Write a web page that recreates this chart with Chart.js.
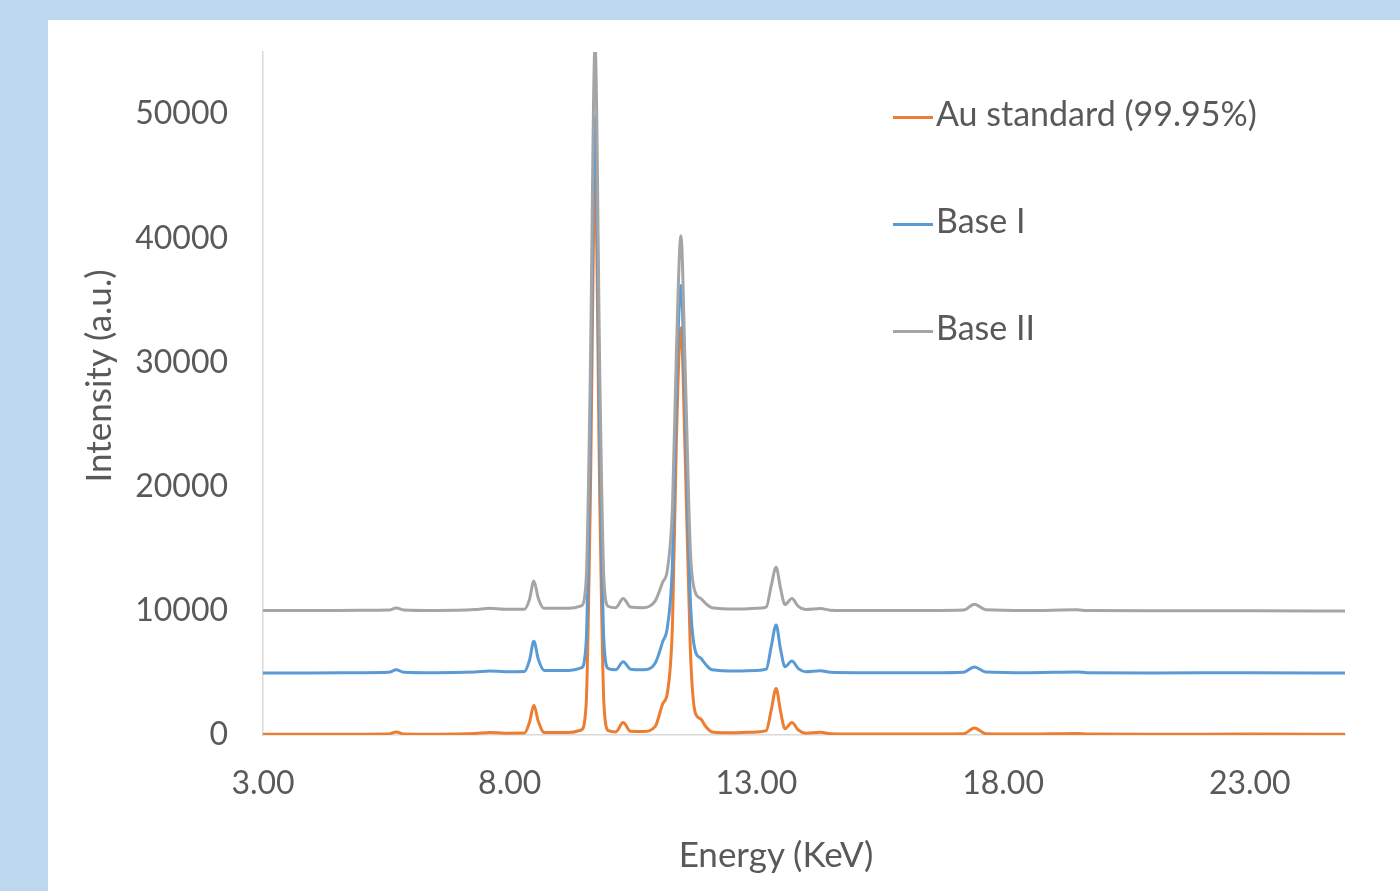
<!DOCTYPE html>
<html>
<head>
<meta charset="utf-8">
<script src="https://cdn.jsdelivr.net/npm/chart.js@4/dist/chart.umd.min.js"></script>
<style>
    body { margin: 0; background: #bdd7ee; width: 1400px; height: 891px; overflow: hidden; font-family: Lato, sans-serif; }
    #panel { position: absolute; left: 48px; top: 20px; width: 1352px; height: 871px; background: #fff; }
    #spectrum { display: block; }
    #legend { position: absolute; left: 845px; top: 72px; }
    .item { position: absolute; left: 0; height: 42px; white-space: nowrap; font-size: 34px; color: #595959; line-height: 42px; }
    .item span.swatch { display: inline-block; width: 40px; height: 3px; vertical-align: middle; margin-right: 3px; }
    #xTitle { position: absolute; left: 0; width: 1456px; top: 812px; text-align: center; font-size: 35px; color: #595959; line-height: 42px; }
    #yTitle { position: absolute; left: 49px; top: 356px; width: 400px; margin-left: -200px; text-align: center;
              font-size: 35px; color: #595959; line-height: 42px; height: 42px; margin-top: -21px; transform: rotate(-90deg); }
</style>
</head>
<body>
<div id="panel">
    <canvas id="spectrum" width="1352" height="871"></canvas>
    <div id="legend"></div>
    <div id="xTitle"></div>
    <div id="yTitle"></div>
</div>
<script>
// energy axis (keV) shared by all three spectra
const energy = [3.00, 4.00, 5.00, 5.55, 5.70, 5.85, 6.50, 7.30, 7.60, 7.90,
    8.30, 8.40, 8.49, 8.58, 8.70, 9.20, 9.45, 9.55, 9.63, 9.73,
    9.83, 9.91, 10.00, 10.15, 10.30, 10.45, 10.70, 10.95, 11.10, 11.20,
    11.30, 11.38, 11.47, 11.56, 11.66, 11.76, 11.87, 11.97, 12.10, 12.60,
    13.00, 13.20, 13.30, 13.40, 13.49, 13.58, 13.72, 13.85, 14.00, 14.30,
    14.50, 15.00, 16.50, 17.20, 17.42, 17.65, 18.50, 19.50, 19.70, 21.00,
    23.00, 24.93];

const auStandard = [60, 60, 70, 80, 250, 90, 70, 120, 200, 150,
    160, 1000, 2400, 1100, 200, 200, 400, 2500, 18000, 44800,
    18000, 2500, 350, 250, 1000, 300, 280, 700, 2500, 3500,
    9000, 24000, 32800, 22000, 7000, 1800, 1300, 700, 250, 180,
    250, 350, 2000, 3750, 1900, 500, 1000, 400, 150, 220,
    100, 80, 80, 100, 560, 110, 80, 120, 80, 60,
    80, 60];

const baseOne = [5000, 5000, 5020, 5050, 5250, 5060, 5020, 5080, 5150, 5100,
    5120, 6000, 7550, 6100, 5200, 5200, 5400, 7500, 23000, 49800,
    23000, 7500, 5350, 5250, 5900, 5300, 5250, 5800, 7500, 8800,
    14000, 28000, 36200, 26000, 11000, 6800, 6200, 5700, 5250, 5150,
    5200, 5300, 7100, 8850, 6900, 5500, 5950, 5350, 5100, 5180,
    5050, 5020, 5020, 5060, 5480, 5080, 5020, 5080, 5020, 5000,
    5020, 4990];

const baseTwo = [10020, 10020, 10040, 10060, 10230, 10070, 10030, 10100, 10200, 10120,
    10130, 10900, 12400, 11000, 10200, 10200, 10400, 12500, 28000, 55500,
    28000, 12500, 10350, 10250, 11000, 10300, 10250, 10800, 12300, 13400,
    18500, 31000, 40200, 29000, 15000, 11500, 11000, 10600, 10250, 10150,
    10200, 10300, 12000, 13500, 11800, 10500, 11000, 10350, 10100, 10180,
    10050, 10020, 10020, 10060, 10530, 10080, 10020, 10080, 10020, 10000,
    10010, 9980];

const seriesNames = ['Au standard (99.95%)', 'Base I', 'Base II'];
const seriesColors = ['#ed7d31', '#5b9bd5', '#a5a5a5'];
const xTicks = [3, 8, 13, 18, 23];
const yTicks = [0, 10000, 20000, 30000, 40000, 50000];
const xTitle = 'Energy (KeV)';
const yTitle = 'Intensity (a.u.)';

const textColor = '#595959';
const tickFont = { family: 'Lato, sans-serif', size: 32 };

function toPoints(values) {
    return energy.map((e, i) => ({ x: e, y: values[i] }));
}

const allSeries = [auStandard, baseOne, baseTwo];
const datasets = allSeries.map((values, i) => ({
    label: seriesNames[i],
    data: toPoints(values),
    borderColor: seriesColors[i],
    borderWidth: 3,
    pointRadius: 0,
    cubicInterpolationMode: 'monotone',
    order: 3 - i, // gray on top, like the original
}));

new Chart(document.getElementById('spectrum'), {
    type: 'line',
    data: { datasets },
    options: {
        responsive: false,
        devicePixelRatio: 1,
        animation: false,
        layout: { padding: { top: 32, right: 55, left: 0, bottom: 0 } },
        plugins: { legend: { display: false }, tooltip: { enabled: false } },
        scales: {
            x: {
                type: 'linear',
                min: 3,
                max: 24.93,
                afterBuildTicks: axis => { axis.ticks = xTicks.map(v => ({ value: v })); },
                afterFit: axis => { axis.height = 156; },
                ticks: { callback: v => v.toFixed(2), font: tickFont, color: textColor, padding: 0, maxRotation: 0 },
                // tick marks are not drawn (grid hidden), tickLength only spaces the labels
                grid: { display: false, drawTicks: true, tickLength: 29 },
                border: { display: true, color: '#d9d9d9', width: 1.5 }
            },
            y: {
                min: 0,
                max: 55000,
                afterBuildTicks: axis => { axis.ticks = yTicks.map(v => ({ value: v })); },
                afterFit: axis => { axis.width = 215; },
                ticks: { callback: v => String(v), font: tickFont, color: textColor, padding: 0 },
                grid: { display: false, drawTicks: true, tickLength: 35 },
                border: { display: true, color: '#d9d9d9', width: 1.5 }
            }
        }
    }
});

// axis titles, placed like the original
document.getElementById('xTitle').textContent = xTitle;
document.getElementById('yTitle').textContent = yTitle;

// legend, top right inside the plot
const legend = document.getElementById('legend');
seriesNames.forEach((name, i) => {
    const div = document.createElement('div');
    div.className = 'item';
    div.style.top = (i * 107) + 'px';
    div.innerHTML = `<span class="swatch" style="background:${seriesColors[i]}"></span>${name}`;
    legend.appendChild(div);
});
</script>
</body>
</html>
